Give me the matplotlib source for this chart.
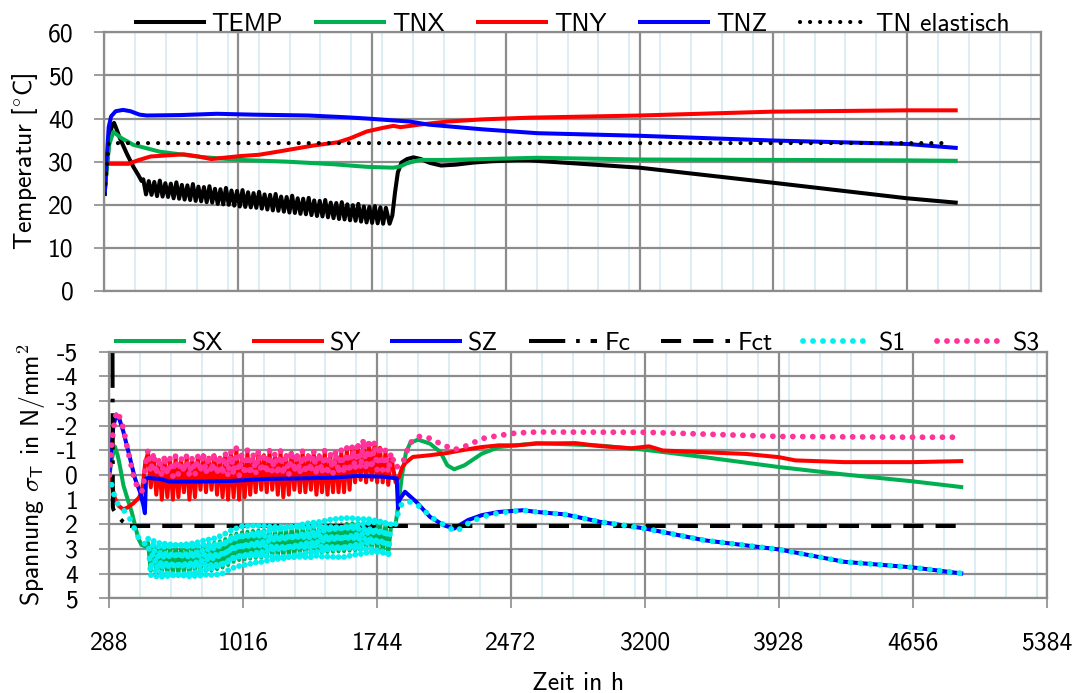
import numpy as np
import matplotlib
matplotlib.use('Agg')
import matplotlib.pyplot as plt
from matplotlib.ticker import FixedLocator

plt.rcParams['font.family'] = ['cmss10', 'DejaVu Sans']
plt.rcParams['axes.unicode_minus'] = False
plt.rcParams['mathtext.fontset'] = 'cm'
plt.rcParams['path.simplify'] = False
FS = 18.5

# ---------------- data: top chart (temperatures) ----------------
osc_t = [500, 515, 530, 545, 560, 575, 590, 605, 620, 635,
         650, 665, 680, 695, 710, 725, 740, 755, 770, 785,
         800, 815, 830, 845, 860, 875, 890, 905, 920, 935,
         950, 965, 980, 995, 1010, 1025, 1040, 1055, 1070, 1085,
         1100, 1115, 1130, 1145, 1160, 1175, 1190, 1205, 1220, 1235,
         1250, 1265, 1280, 1295, 1310, 1325, 1340, 1355, 1370, 1385,
         1400, 1415, 1430, 1445, 1460, 1475, 1490, 1505, 1520, 1535,
         1550, 1565, 1580, 1595, 1610, 1625, 1640, 1655, 1670, 1685,
         1700, 1715, 1730, 1745, 1760, 1775, 1790, 1805, 1820]

temp_pre_t = [290, 300, 315, 330, 341, 355, 373, 410, 446, 473, 491]
temp_pre_v = [22.6, 28.0, 35.0, 38.5, 39.0, 37.5, 35.4, 31.9, 28.8, 26.9, 25.5]
temp_osc_v = [25.9, 22.4, 25.5, 22.3, 25.3, 22.0, 25.6, 21.9, 25.0, 21.8,
              24.9, 21.5, 25.2, 21.4, 24.6, 21.2, 24.5, 21.1, 24.8, 20.9,
              24.2, 20.8, 24.1, 20.6, 24.3, 20.5, 23.7, 20.2, 23.6, 20.1,
              23.9, 20.0, 23.3, 19.8, 23.2, 19.6, 23.4, 19.5, 22.9, 19.4,
              22.7, 19.3, 23.0, 19.1, 22.4, 18.9, 22.3, 18.7, 22.5, 18.6,
              21.9, 18.4, 21.8, 18.2, 22.1, 18.1, 21.5, 17.9, 21.4, 17.8,
              21.6, 17.6, 21.0, 17.4, 20.9, 17.3, 21.1, 17.1, 20.5, 16.9,
              20.4, 16.7, 20.6, 16.6, 20.1, 16.4, 19.9, 16.3, 20.2, 16.1,
              19.6, 15.9, 19.5, 15.8, 19.7, 15.7, 19.4, 15.6, 19.3]
temp_post_t = [1840, 1855, 1870, 1885, 1905, 1935, 1970, 2010, 2060, 2120, 2200, 2300, 2400, 2530,
               2600, 3200, 3928, 4656, 4920]
temp_post_v = [15.6, 17.5, 23.0, 27.5, 29.8, 30.6, 31.0, 30.6, 29.7, 29.1, 29.3, 29.8, 30.1, 30.3,
               30.3, 28.6, 25.1, 21.5, 20.5]

tnx_t = [290, 300, 315, 337, 380, 446, 591, 809, 1026, 1280, 1533, 1716, 1860, 1900, 1933, 2005,
         2156, 2644, 3200, 3928, 4656, 4920]
tnx_v = [22.5, 28.0, 34.0, 36.9, 35.5, 33.9, 32.3, 31.1, 30.4, 30.0, 29.4, 28.8, 28.6, 28.9, 29.6, 30.4,
         30.4, 30.9, 30.5, 30.4, 30.3, 30.2]

tny_t = [290, 420, 470, 540, 720, 800, 870, 1030, 1130, 1230, 1420, 1560, 1625, 1716, 1800, 1860,
         1900, 2005, 2156, 2344, 2600, 3200, 3928, 4656, 4920]
tny_v = [29.5, 29.5, 30.3, 31.2, 31.7, 31.2, 30.6, 31.3, 31.6, 32.3, 33.7, 34.5, 35.4, 37.0, 37.8, 38.3,
         38.0, 38.6, 39.3, 39.8, 40.2, 40.7, 41.6, 41.9, 41.9]

tnz_t = [290, 300, 312, 325, 350, 390, 430, 480, 520, 700, 900, 1100, 1400, 1600, 1716, 1850, 1950,
         2050, 2156, 2344, 2644, 3200, 3928, 4656, 4920]
tnz_v = [22.5, 30.0, 38.0, 40.5, 41.7, 42.0, 41.7, 40.9, 40.7, 40.8, 41.1, 40.9, 40.7, 40.3, 40.0, 39.6,
         39.3, 38.6, 38.2, 37.5, 36.6, 36.0, 34.9, 34.1, 33.2]

tne_t = [290, 300, 312, 4865]
tne_v = [22.5, 28.0, 34.3, 34.3]

# ---------------- data: bottom chart (stresses) ----------------
sx_pre_t = [290, 305, 320, 335, 348, 366, 393, 411, 429, 447, 465, 485]
sx_pre_v = [0.0, -0.7, -1.15, -0.8, -0.34, 0.41, 1.08, 1.49, 2.03, 2.57, 2.84, 2.9]
sx_osc_v = [2.75, 3.88, 2.81, 3.95, 2.88, 4.0, 2.9, 4.0, 2.9, 4.0,
            2.9, 4.0, 2.9, 4.0, 2.9, 4.0, 2.88, 3.97, 2.85, 3.93,
            2.8, 3.89, 2.78, 3.87, 2.75, 3.82, 2.69, 3.75, 2.6, 3.65,
            2.45, 3.52, 2.38, 3.45, 2.33, 3.42, 2.3, 3.39, 2.27, 3.36,
            2.25, 3.35, 2.24, 3.33, 2.23, 3.32, 2.21, 3.31, 2.2, 3.3,
            2.19, 3.27, 2.16, 3.25, 2.13, 3.22, 2.11, 3.2, 2.09, 3.19,
            2.05, 3.15, 2.05, 3.14, 2.03, 3.12, 2.01, 3.11, 2.0, 3.1,
            2.0, 3.09, 1.98, 3.07, 1.96, 3.05, 1.95, 3.05, 1.94, 3.03,
            1.92, 3.02, 1.93, 3.04, 1.95, 3.08, 2.01, 3.15, 2.1]
sx_post_t = [1845, 1860, 1880, 1901, 1925, 1966, 2000, 2032, 2088, 2126, 2163, 2219, 2313, 2406,
             2500, 2612, 2955, 3200, 3524, 3928, 4282, 4656, 4918]
sx_post_v = [2.0, 1.2, 0.0, -0.9, -1.3, -1.43, -1.35, -1.27, -0.93, -0.39, -0.23, -0.39, -0.86, -1.13,
             -1.2, -1.29, -1.19, -1.02, -0.72, -0.32, -0.02, 0.26, 0.49]

sy_pre_t = [290, 300, 320, 340, 366, 393, 420, 447, 465, 474, 485]
sy_pre_v = [0.0, 0.3, 0.95, 1.25, 1.4, 1.3, 1.15, 0.95, 0.74, 0.27, -0.5]
sy_osc_v = [-0.9, 0.5, -0.8, 0.8, -0.6, 1.0, -0.7, 0.9, -0.6, 1.0,
            -0.7, 0.9, -0.6, 0.7, -0.7, 1.0, -0.6, 0.9, -0.7, 0.6,
            -0.8, 0.7, -0.7, 0.6, -0.8, 0.8, -0.7, 0.9, -0.8, 1.0,
            -0.9, 0.9, -1.0, 1.0, -0.8, 0.9, -0.9, 0.8, -0.8, 0.7,
            -0.9, 0.6, -0.8, 0.7, -0.9, 0.6, -0.8, 0.8, -0.9, 0.9,
            -0.8, 0.8, -0.9, 0.6, -0.8, 0.7, -0.9, 0.7, -0.8, 0.6,
            -0.9, 0.8, -0.8, 0.7, -0.9, 0.8, -0.8, 0.7, -0.9, 0.7,
            -0.9, 0.7, -1.0, 0.6, -1.1, 0.3, -1.2, 0.2, -1.3, 0.3,
            -1.3, 0.2, -1.2, 0.3, -1.1, 0.3, -0.9, 0.4, -0.8]
sy_post_t = [1845, 1864, 1880, 1900, 1939, 2032, 2126, 2219, 2313, 2406, 2500, 2612, 2823, 2955,
             3126, 3221, 3297, 3524, 3752, 3928, 4017, 4282, 4656, 4918]
sy_post_v = [0.3, 0.08, -0.3, -0.5, -0.73, -0.80, -0.89, -1.02, -1.13, -1.2, -1.2, -1.27, -1.29, -1.17,
             -1.08, -1.16, -0.99, -0.92, -0.85, -0.72, -0.59, -0.52, -0.52, -0.56]

sz_t = [290, 300, 312, 328, 345, 366, 402, 429, 456, 474, 483, 489, 500, 560, 620, 780, 960, 1145,
        1326, 1507, 1633, 1778, 1851, 1858, 1866, 1896, 1957, 2032, 2107, 2163, 2238, 2313, 2406,
        2537, 2612, 2766, 2955, 3200, 3524, 3928, 4282, 4656, 4918]
sz_v = [0.0, -1.0, -2.0, -2.45, -2.25, -1.76, -0.68, 0.14, 0.68, 1.2, 1.55, 0.14, 0.12, 0.16, 0.27,
        0.27, 0.24, 0.16, 0.14, 0.11, 0.04, 0.07, 0.14, 1.35, 1.0, 0.68, 1.09, 1.70, 2.04, 2.17, 1.83,
        1.63, 1.50, 1.43, 1.5, 1.6, 1.9, 2.17, 2.65, 3.02, 3.52, 3.75, 3.99]

fc_t = [307, 309, 312, 320, 332, 346, 362, 382, 410, 440]
fc_v = [-5.0, 1.3, 1.4, 1.5, 1.62, 1.76, 1.88, 1.98, 2.05, 2.07]

fct_t = [400, 4920]
fct_v = [2.07, 2.07]

s1_pre_t = [290, 297, 320, 339, 357, 384, 411, 438, 460, 480]
s1_pre_v = [0.0, 0.22, 0.95, 1.22, 1.36, 1.55, 1.9, 2.4, 2.7, 2.8]
s1_osc_v = [2.5, 4.13, 2.56, 4.2, 2.63, 4.25, 2.65, 4.25, 2.65, 4.25,
            2.65, 4.25, 2.65, 4.25, 2.65, 4.25, 2.63, 4.22, 2.6, 4.18,
            2.55, 4.14, 2.53, 4.12, 2.5, 4.07, 2.44, 4.0, 2.35, 3.9,
            2.2, 3.77, 2.13, 3.7, 2.08, 3.67, 2.05, 3.64, 2.02, 3.61,
            2.0, 3.6, 1.99, 3.58, 1.98, 3.57, 1.96, 3.56, 1.95, 3.55,
            1.94, 3.52, 1.91, 3.5, 1.88, 3.47, 1.86, 3.45, 1.84, 3.44,
            1.8, 3.4, 1.8, 3.39, 1.78, 3.37, 1.76, 3.36, 1.75, 3.35,
            1.75, 3.34, 1.73, 3.32, 1.71, 3.3, 1.7, 3.3, 1.69, 3.28,
            1.67, 3.27, 1.68, 3.29, 1.7, 3.33, 1.76, 3.4, 1.85]
s1_post_t = [1845, 1860, 1880, 1901, 1941, 1976, 2051, 2126, 2172, 2238, 2313, 2406, 2537, 2612,
             2766, 2955, 3200, 3524, 3928, 4282, 4656, 4918]
s1_post_v = [2.0, 1.5, 1.15, 1.09, 1.1, 1.29, 1.77, 2.1, 2.3, 1.97, 1.70, 1.54, 1.43, 1.5,
             1.6, 1.9, 2.17, 2.65, 3.02, 3.52, 3.75, 3.99]

s3_pre_t = [290, 300, 312, 330, 345, 366, 384, 402, 420, 438, 465, 474, 485]
s3_pre_v = [0.0, -1.0, -1.9, -2.57, -2.36, -1.89, -1.22, -0.61, 0.0, 0.41, 0.68, 0.54, -0.4]
s3_osc_v = [-1.0, -0.1, -0.9, 0.0, -0.7, 0.05, -0.8, 0.0, -0.7, 0.05,
            -0.8, 0.0, -0.7, -0.1, -0.8, 0.05, -0.7, 0.0, -0.8, -0.1,
            -0.9, -0.05, -0.8, -0.1, -0.9, 0.0, -0.8, 0.0, -0.9, 0.05,
            -1.0, 0.0, -1.1, 0.05, -0.9, 0.0, -1.0, 0.0, -0.9, -0.05,
            -1.0, -0.1, -0.9, -0.05, -1.0, -0.1, -0.9, 0.0, -1.0, 0.0,
            -0.9, 0.0, -1.0, -0.1, -0.9, -0.05, -1.0, -0.05, -0.9, -0.1,
            -1.0, 0.0, -0.9, -0.05, -1.0, 0.0, -0.9, -0.05, -1.0, -0.05,
            -1.0, -0.05, -1.1, -0.1, -1.2, -0.2, -1.35, -0.25, -1.45, -0.2,
            -1.45, -0.25, -1.35, -0.2, -1.2, -0.2, -1.0, -0.1, -0.9]
s3_post_t = [1845, 1883, 1920, 1966, 2013, 2088, 2163, 2238, 2313, 2406, 2500, 2612, 3200, 3928,
             4656, 4870]
s3_post_v = [-0.3, -0.46, -1.27, -1.56, -1.54, -1.27, -1.02, -1.2, -1.47, -1.6, -1.7, -1.74, -1.73,
             -1.56, -1.53, -1.53]

x_major = [288, 1016, 1744, 2472, 3200, 3928, 4656, 5384]

# ---------------- assemble series ----------------
def join(a_t, b_t, c_t, a_v, b_v, c_v):
    return (np.concatenate([a_t, b_t, c_t]), np.concatenate([a_v, b_v, c_v]))

temp_t, temp_v = join(temp_pre_t, osc_t, temp_post_t, temp_pre_v, temp_osc_v, temp_post_v)
sx_t, sx_v = join(sx_pre_t, osc_t, sx_post_t, sx_pre_v, sx_osc_v, sx_post_v)
sy_t, sy_v = join(sy_pre_t, osc_t, sy_post_t, sy_pre_v, sy_osc_v, sy_post_v)
s1_t, s1_v = join(s1_pre_t, osc_t, s1_post_t, s1_pre_v, s1_osc_v, s1_post_v)
s3_t, s3_v = join(s3_pre_t, osc_t, s3_post_t, s3_pre_v, s3_osc_v, s3_post_v)

GREEN = '#00B050'
RED = '#FF0000'
BLUE = '#0000FF'
CYAN = '#00F0F0'
PINK = '#FF3399'
GRID = '#8C8C8C'
MINOR = '#DAECF5'

W, H = 1078, 693
fig = plt.figure(figsize=(W / 100, H / 100), dpi=100)
ax1 = fig.add_axes([104.3 / W, 1 - 291 / H, (1041 - 104.3) / W, (291 - 32.3) / H])
ax2 = fig.add_axes([109 / W, 1 - 598.3 / H, (1047 - 109) / W, (598.3 - 351.6) / H])

x_minor = list(range(288, 5385, 168))

for ax in (ax1, ax2):
    ax.set_xlim(288, 5384)
    ax.xaxis.set_major_locator(FixedLocator(x_major))
    ax.xaxis.set_minor_locator(FixedLocator(x_minor))
    ax.grid(which='minor', axis='x', color=MINOR, lw=1.3, zorder=0)
    ax.grid(which='major', axis='both', color=GRID, lw=1.6, zorder=0.5)
    ax.set_axisbelow(True)
    for s in ax.spines.values():
        s.set_color(GRID)
        s.set_linewidth(1.6)
    ax.tick_params(which='major', axis='y', length=7.2, width=1.2, color=GRID,
                   labelsize=FS, pad=15)
    ax.tick_params(which='minor', length=0)

LW = 2.9
# top chart
ax1.plot(temp_t, temp_v, color='black', lw=LW, label='TEMP')
ax1.plot(tnx_t, tnx_v, color=GREEN, lw=LW, label='TNX')
ax1.plot(tny_t, tny_v, color=RED, lw=LW, label='TNY')
ax1.plot(tnz_t, tnz_v, color=BLUE, lw=LW, label='TNZ')
ax1.plot(tne_t, tne_v, color='black', lw=3.0, ls=(0, (0.01, 2.4)),
         dash_capstyle='round', label='TN elastisch')
ax1.set_ylim(0, 60)
ax1.set_yticks(range(0, 61, 10))
ax1.tick_params(axis='x', which='major', length=0, labelbottom=False)
ax1.set_ylabel(r'Temperatur [$^{\circ}$C]', fontsize=FS, labelpad=6)
ax1.legend(loc='lower center', bbox_to_anchor=(0.5, 0.985), ncol=5, frameon=False,
           fontsize=FS, handlelength=2.65, handletextpad=0.3, columnspacing=1.3,
           borderpad=0, borderaxespad=0)

# bottom chart
ax2.plot(sx_t, sx_v, color=GREEN, lw=LW, label='SX')
ax2.plot(sy_t, sy_v, color=RED, lw=LW, label='SY')
ax2.plot(sz_t, sz_v, color=BLUE, lw=LW, label='SZ')
ax2.plot(fc_t, fc_v, color='black', lw=LW, ls=(0, (9, 2.7, 0.9, 2.7)), label='Fc')
ax2.plot(fct_t, fct_v, color='black', lw=LW, ls=(0, (5, 3)), label='Fct')
ax2.plot(s1_t, s1_v, color=CYAN, lw=4.2, ls=(0, (0.01, 1.7)), dash_capstyle='round', label='S1')
ax2.plot(s3_t, s3_v, color=PINK, lw=4.2, ls=(0, (0.01, 1.7)), dash_capstyle='round', label='S3')
ax2.set_ylim(5, -5)
ax2.set_yticks(range(-5, 6, 1))
ax2.tick_params(axis='x', which='major', length=7.2, width=1.2, color=GRID,
                labelsize=FS, pad=17)
ax2.set_ylabel(r'Spannung $\sigma_{\mathsf{T}}$ in N/mm$^{\mathsf{2}}$', fontsize=FS, labelpad=6)
ax2.set_xlabel('Zeit in h', fontsize=FS, labelpad=12)
ax2.legend(loc='lower center', bbox_to_anchor=(0.5, 0.985), ncol=7, frameon=False,
           fontsize=FS, handlelength=2.65, handletextpad=0.3, columnspacing=1.2,
           borderpad=0, borderaxespad=0)

fig.savefig('out.png', dpi=100)
